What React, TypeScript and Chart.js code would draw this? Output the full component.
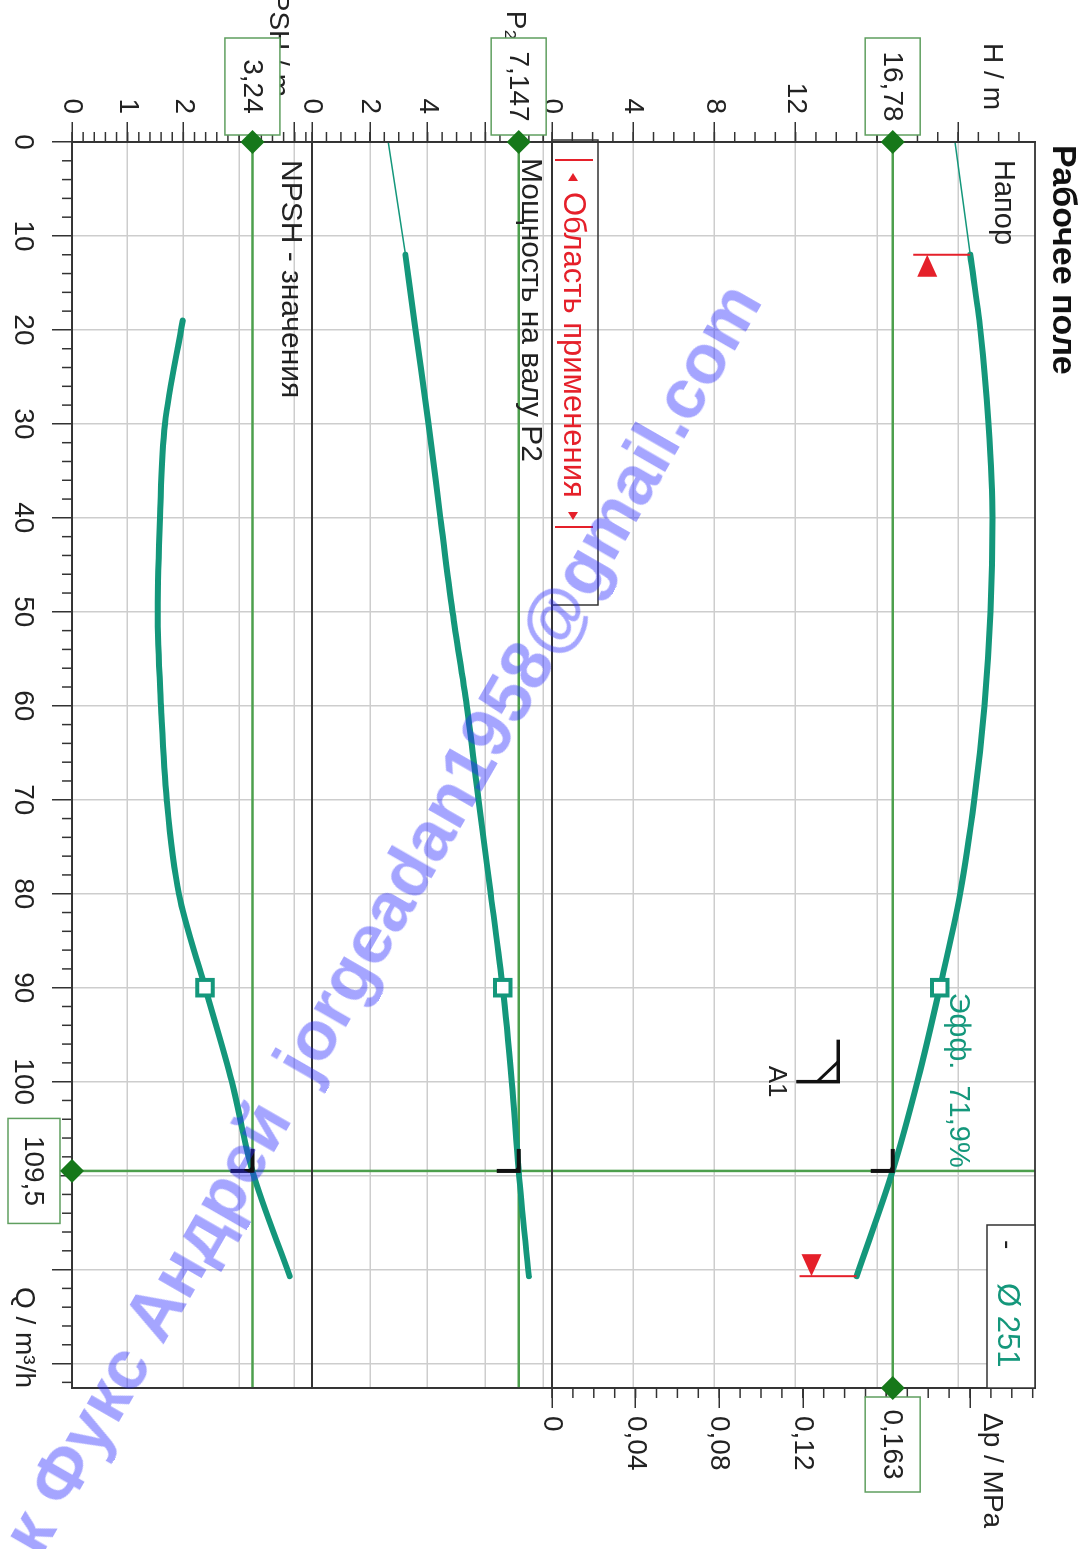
import React, { useEffect, useRef } from 'react';
import { Chart, registerables } from 'chart.js';

Chart.register(...registerables);

// ---------- data ----------
const qMax = 132.6;
const qTickLabels = [0, 10, 20, 30, 40, 50, 60, 70, 80, 90, 100];

const headMax = 23.79;
const powerMax = 8.3;
const npshMax = 4.31;
const dpMax = 0.2311;

const headTickLabels = [0, 4, 8, 12];
const powerTickLabels = [0, 2, 4];
const npshTickLabels = [0, 1, 2];
const dpTickLabels = [0, 0.04, 0.08, 0.12];

const headThinQ = [0, 12];
const headThinVals = [19.85, 20.6];
const headQ = [12, 20, 30, 40, 50, 60, 70, 80, 90, 100, 109.5, 120.7];
const headVals = [20.6, 21.1, 21.5, 21.7, 21.6, 21.3, 20.8, 20.1, 19.1, 18.0, 16.78, 15.0];

const powerThinQ = [0, 12];
const powerThinVals = [2.64, 3.23];
const powerQ = [12, 20, 30, 40, 50, 60, 70, 80, 90, 100, 109.5, 120.7];
const powerVals = [3.23, 3.58, 4.03, 4.44, 4.86, 5.35, 5.76, 6.18, 6.6, 6.91, 7.147, 7.5];

const npshQ = [19, 30, 40, 50, 60, 70, 80, 90, 100, 109.5, 120.7];
const npshVals = [1.99, 1.67, 1.58, 1.54, 1.6, 1.7, 1.92, 2.39, 2.87, 3.24, 3.91];

const dutyQ = 109.5;
const dutyH = 16.78;
const dutyP = 7.147;
const dutyN = 3.24;
const dutyDp = 0.163;

const bepQ = 90;
const bepH = 19.1;
const bepP = 6.6;
const bepN = 2.39;
const bepEff = '71,9%';

const a1Q = 100;
const a1H = 14.1;

const rangeMinQ = 12;
const rangeMaxQ = 120.7;
const impeller = 'Ø 251';

// ---------- style ----------
const W = 1549;
const H = 1087;
const FONT = '"Liberation Sans", Arial, sans-serif';
const TEAL = '#14977b';
const GRID = '#cdcdcd';
const AXIS = '#333333';
const DUTY_GREEN = '#4d9f4d';
const BOX_GREEN = '#5f9f5f';
const DIAMOND = '#16781a';
const RED = '#e5202a';

const fmt = (v: number) => String(v).replace('.', ',');
const has = (arr: number[], v: number) => arr.some((t) => Math.abs(t - v) < 1e-6);
const xy = (qs: number[], vs: number[]) => qs.map((q, i) => ({ x: q, y: vs[i] }));

function line(ctx: CanvasRenderingContext2D, x1: number, y1: number, x2: number, y2: number) {
  ctx.beginPath();
  ctx.moveTo(x1, y1);
  ctx.lineTo(x2, y2);
  ctx.stroke();
}

function text(ctx: CanvasRenderingContext2D, s: string, x: number, y: number, opts: any = {}) {
  ctx.font = `${opts.bold ? 'bold ' : ''}${opts.size || 28}px ${FONT}`;
  ctx.fillStyle = opts.color || '#222';
  ctx.textAlign = opts.align || 'left';
  ctx.textBaseline = 'middle';
  ctx.fillText(s, x, y);
}

function diamond(ctx: CanvasRenderingContext2D, x: number, y: number, r: number) {
  ctx.fillStyle = DIAMOND;
  ctx.beginPath();
  ctx.moveTo(x, y - r);
  ctx.lineTo(x + r, y);
  ctx.lineTo(x, y + r);
  ctx.lineTo(x - r, y);
  ctx.closePath();
  ctx.fill();
}

function valueBox(ctx: CanvasRenderingContext2D, cx: number, cy: number, w: number, h: number, s: string) {
  ctx.fillStyle = '#fff';
  ctx.fillRect(cx - w / 2, cy - h / 2, w, h);
  ctx.strokeStyle = BOX_GREEN;
  ctx.lineWidth = 1.5;
  ctx.strokeRect(cx - w / 2, cy - h / 2, w, h);
  text(ctx, s, cx, cy + 1, { align: 'center' });
}

function corner(ctx: CanvasRenderingContext2D, x: number, y: number, len: number) {
  ctx.strokeStyle = '#111';
  ctx.lineWidth = 4;
  ctx.beginPath();
  ctx.moveTo(x - len, y);
  ctx.lineTo(x, y);
  ctx.lineTo(x, y + len);
  ctx.stroke();
  ctx.fillStyle = '#111';
  ctx.beginPath();
  ctx.moveTo(x, y);
  ctx.lineTo(x - 8, y);
  ctx.quadraticCurveTo(x - 1, y + 1, x, y + 8);
  ctx.closePath();
  ctx.fill();
}

function triangle(ctx: CanvasRenderingContext2D, apexX: number, cy: number, dir: number) {
  ctx.fillStyle = RED;
  ctx.beginPath();
  ctx.moveTo(apexX, cy);
  ctx.lineTo(apexX + dir * 22, cy - 10);
  ctx.lineTo(apexX + dir * 22, cy + 10);
  ctx.closePath();
  ctx.fill();
}

const overlay = {
  id: 'overlay',
  beforeDraw(chart: any) {
    const { ctx } = chart;
    ctx.save();
    ctx.fillStyle = '#fff';
    ctx.fillRect(0, 0, chart.width, chart.height);
    ctx.restore();
  },
  beforeDatasetsDraw(chart: any) {
    const { ctx, chartArea: ca, scales } = chart;
    const { x, yH, yP, yN } = scales;
    ctx.save();
    ctx.strokeStyle = DUTY_GREEN;
    ctx.lineWidth = 2.5;
    for (const [sc, v] of [[yH, dutyH], [yP, dutyP], [yN, dutyN]] as any) {
      const py = sc.getPixelForValue(v);
      line(ctx, ca.left, py, ca.right, py);
    }
    const px = x.getPixelForValue(dutyQ);
    line(ctx, px, ca.top, px, ca.bottom);
    ctx.restore();
  },
  afterDatasetsDraw(chart: any) {
    const { ctx, chartArea: ca, scales } = chart;
    const { x, yH, yP, yN, yDp } = scales;
    ctx.save();

    // panel separators and frame
    ctx.strokeStyle = AXIS;
    ctx.lineWidth = 1.8;
    line(ctx, ca.left, yH.bottom, ca.right, yH.bottom);
    line(ctx, ca.left, yP.bottom, ca.right, yP.bottom);
    ctx.strokeRect(ca.left, ca.top, ca.right - ca.left, ca.bottom - ca.top);

    // minor ticks
    ctx.lineWidth = 1.5;
    for (let i = 0; i * 2 <= qMax; i++) {
      if (i % 5 === 0) continue;
      const px = x.getPixelForValue(i * 2);
      line(ctx, px, ca.bottom, px, ca.bottom + 10);
    }
    const leftMinor: [any, number, number][] = [[yH, 1, headMax], [yP, 0.5, powerMax], [yN, 0.2, npshMax]];
    for (const [sc, step, max] of leftMinor) {
      for (let i = 0; i * step <= max; i++) {
        const py = sc.getPixelForValue(i * step);
        line(ctx, ca.left - 10, py, ca.left, py);
      }
    }
    for (let i = 0; i * 0.01 <= dpMax; i++) {
      const py = yDp.getPixelForValue(i * 0.01);
      line(ctx, ca.right, py, ca.right + 10, py);
    }

    // application range markers
    ctx.strokeStyle = RED;
    ctx.lineWidth = 2;
    const sx = x.getPixelForValue(rangeMinQ);
    const sy = yH.getPixelForValue(headVals[0]);
    line(ctx, sx, sy, sx, sy + 57);
    triangle(ctx, sx, sy + 43, 1);
    const ex = x.getPixelForValue(rangeMaxQ);
    const ey = yH.getPixelForValue(headVals[headVals.length - 1]);
    line(ctx, ex, ey, ex, ey + 57);
    triangle(ctx, ex, ey + 45, -1);

    // duty point corners
    const dx = x.getPixelForValue(dutyQ);
    corner(ctx, dx, yH.getPixelForValue(dutyH), 22);
    corner(ctx, dx, yP.getPixelForValue(dutyP), 22);
    corner(ctx, dx, yN.getPixelForValue(dutyN), 22);

    // A1 marker
    const ax = x.getPixelForValue(a1Q);
    const ay = yH.getPixelForValue(a1H);
    ctx.strokeStyle = '#111';
    ctx.lineWidth = 3.5;
    ctx.beginPath();
    ctx.moveTo(ax - 42, ay);
    ctx.lineTo(ax, ay);
    ctx.lineTo(ax, ay + 42);
    ctx.stroke();
    ctx.lineWidth = 3;
    line(ctx, ax - 20, ay, ax, ay + 21);
    text(ctx, 'A1', ax, ay + 62, { align: 'center', size: 26 });

    // labels
    text(ctx, 'Рабочее поле', 145, 25, { bold: true, size: 34, color: '#111' });
    text(ctx, 'H / m', 110, 95, { align: 'right' });
    text(ctx, 'P₂ / kW', 104, yH.bottom + 37, { align: 'right' });
    text(ctx, 'NPSH / m', 97, yP.bottom + 34, { align: 'right' });
    text(ctx, 'Δp / MPa', 1413, 95);
    text(ctx, 'Q / m³/h', ca.right, 1063, { align: 'right' });

    text(ctx, 'Напор', 160, 84, { size: 29 });
    text(ctx, 'Мощность на валу P2', 158, yH.bottom + 22, { size: 30 });
    text(ctx, 'NPSH - значения', 160, yP.bottom + 22, { size: 30 });
    text(ctx, 'Эфф.  ' + bepEff, x.getPixelForValue(bepQ) + 5, yH.getPixelForValue(bepH) - 18, { size: 29, color: TEAL });

    // legend box
    ctx.fillStyle = '#fff';
    ctx.fillRect(1225, ca.top, ca.right - 1225, 48);
    ctx.strokeStyle = AXIS;
    ctx.lineWidth = 1.5;
    ctx.strokeRect(1225, ca.top, ca.right - 1225, 48);
    text(ctx, '-', 1240, ca.top + 28, { size: 28 });
    text(ctx, impeller, 1283, ca.top + 28, { size: 31, color: TEAL });

    // application range box
    const bx1 = 140, bx2 = 605, by1 = yH.bottom - 46, by2 = yH.bottom;
    ctx.strokeStyle = AXIS;
    ctx.lineWidth = 1.5;
    ctx.strokeRect(bx1, by1, bx2 - bx1, by2 - by1);
    ctx.strokeStyle = RED;
    ctx.lineWidth = 2;
    line(ctx, 160, by1 + 5, 160, by2 - 3);
    line(ctx, 527, by1 + 5, 527, by2 - 3);
    ctx.fillStyle = RED;
    ctx.beginPath();
    ctx.moveTo(173, by1 + 25); ctx.lineTo(181, by1 + 20); ctx.lineTo(181, by1 + 30); ctx.closePath(); ctx.fill();
    ctx.beginPath();
    ctx.moveTo(520, by1 + 25); ctx.lineTo(512, by1 + 20); ctx.lineTo(512, by1 + 30); ctx.closePath(); ctx.fill();
    text(ctx, 'Область применения', 192, by1 + 25, { size: 31, color: RED });

    // value boxes and diamonds
    const hy = yH.getPixelForValue(dutyH);
    const py = yP.getPixelForValue(dutyP);
    const ny = yN.getPixelForValue(dutyN);
    valueBox(ctx, 86.5, hy, 97, 55, fmt(dutyH));
    valueBox(ctx, 86.5, py, 97, 55, fmt(dutyP));
    valueBox(ctx, 86.5, ny, 97, 55, fmt(dutyN));
    valueBox(ctx, dx, 1053, 105, 52, fmt(dutyQ));
    valueBox(ctx, 1444.5, yDp.getPixelForValue(dutyDp), 95, 55, fmt(dutyDp));
    diamond(ctx, ca.left, hy, 12);
    diamond(ctx, ca.left, py, 12);
    diamond(ctx, ca.left, ny, 12);
    diamond(ctx, dx, ca.bottom, 12);
    diamond(ctx, ca.right, yDp.getPixelForValue(dutyDp), 12);

    ctx.restore();
  },
};

export default function App() {
  const ref = useRef<HTMLCanvasElement>(null);

  useEffect(() => {
    const tickFont = { family: FONT, size: 28 };
    const grid = { color: GRID, lineWidth: 1.5, tickLength: 20, tickColor: AXIS, tickWidth: 1.5 };
    const border = { color: AXIS, width: 1.8 };
    const leftAxis = (stackWeight: number, max: number, step: number, shown: number[]) => ({
      type: 'linear',
      position: 'left',
      stack: 'panels',
      stackWeight,
      min: 0,
      max,
      grid,
      border,
      ticks: {
        stepSize: step,
        includeBounds: false,
        autoSkip: false,
        font: tickFont,
        color: '#222',
        padding: 8,
        callback: (v: number) => (has(shown, v) ? fmt(v) : ''),
      },
      afterFit: (s: any) => {
        s.width = 142;
      },
    });
    const rightBlank = (stackWeight: number, max: number) => ({
      type: 'linear',
      position: 'right',
      stack: 'panels',
      stackWeight,
      min: 0,
      max,
      grid: { display: false },
      border,
      ticks: { display: false },
      afterFit: (s: any) => {
        s.width = 161;
      },
    });

    const chart = new Chart(ref.current as HTMLCanvasElement, {
      type: 'line',
      data: {
        datasets: [
          { data: [{ x: bepQ, y: bepH }], yAxisID: 'yH', showLine: false, pointStyle: 'rect', pointRadius: 11, pointBorderWidth: 4, pointBackgroundColor: '#fff', pointBorderColor: TEAL },
          { data: [{ x: bepQ, y: bepP }], yAxisID: 'yP', showLine: false, pointStyle: 'rect', pointRadius: 11, pointBorderWidth: 4, pointBackgroundColor: '#fff', pointBorderColor: TEAL },
          { data: [{ x: bepQ, y: bepN }], yAxisID: 'yN', showLine: false, pointStyle: 'rect', pointRadius: 11, pointBorderWidth: 4, pointBackgroundColor: '#fff', pointBorderColor: TEAL },
          { data: xy(headQ, headVals), yAxisID: 'yH', borderColor: TEAL, borderWidth: 6, cubicInterpolationMode: 'monotone', borderCapStyle: 'round' },
          { data: xy(headThinQ, headThinVals), yAxisID: 'yH', borderColor: TEAL, borderWidth: 1.5 },
          { data: xy(powerQ, powerVals), yAxisID: 'yP', borderColor: TEAL, borderWidth: 6, cubicInterpolationMode: 'monotone', borderCapStyle: 'round' },
          { data: xy(powerThinQ, powerThinVals), yAxisID: 'yP', borderColor: TEAL, borderWidth: 1.5 },
          { data: xy(npshQ, npshVals), yAxisID: 'yN', borderColor: TEAL, borderWidth: 6, cubicInterpolationMode: 'monotone', borderCapStyle: 'round' },
        ],
      } as any,
      options: {
        animation: false,
        responsive: false,
        devicePixelRatio: 1,
        events: [],
        layout: { padding: { top: 52, left: 0, right: 0, bottom: 0 } },
        elements: { point: { radius: 0 }, line: { tension: 0 } },
        plugins: { legend: { display: false }, tooltip: { enabled: false }, title: { display: false } },
        scales: {
          x: {
            type: 'linear',
            position: 'bottom',
            min: 0,
            max: qMax,
            grid,
            border,
            ticks: {
              stepSize: 10,
              includeBounds: false,
              autoSkip: false,
              maxRotation: 0,
              font: tickFont,
              color: '#222',
              padding: 12,
              callback: (v: number) => (has(qTickLabels, v) ? String(v) : ''),
            },
            afterFit: (s: any) => {
              s.height = 72;
            },
          },
          // left stack is placed in reverse order: last defined ends on top
          yN: leftAxis(240, npshMax, 1, npshTickLabels),
          yP: leftAxis(240, powerMax, 2, powerTickLabels),
          yH: leftAxis(483, headMax, 4, headTickLabels),
          yDp: {
            type: 'linear',
            position: 'right',
            stack: 'panels',
            stackWeight: 483,
            min: 0,
            max: dpMax,
            grid: { ...grid, drawOnChartArea: false },
            border,
            ticks: {
              stepSize: 0.04,
              includeBounds: false,
              autoSkip: false,
              font: tickFont,
              color: '#222',
              padding: 8,
              callback: (v: number) => (has(dpTickLabels, v) ? fmt(Math.round(v * 100) / 100) : ''),
            },
            afterFit: (s: any) => {
              s.width = 161;
            },
          },
          yPr: rightBlank(240, powerMax),
          yNr: rightBlank(240, npshMax),
        },
      } as any,
      plugins: [overlay],
    });
    return () => chart.destroy();
  }, []);

  return (
    <div style={{ position: 'absolute', left: 0, top: 0, width: H, height: W, overflow: 'hidden', background: '#fff' }}>
      <div
        style={{
          position: 'absolute',
          left: 0,
          top: 0,
          width: W,
          height: H,
          transformOrigin: '0 0',
          transform: `translate(${H}px, 0px) rotate(90deg)`,
        }}
      >
        <canvas ref={ref} width={W} height={H} style={{ width: W, height: H, display: 'block' }} />
      </div>
      <div
        style={{
          position: 'absolute',
          left: 381,
          top: 918,
          transform: 'translate(-50%, -50%) rotate(-60.1deg)',
          whiteSpace: 'pre',
          font: `bold 70px ${FONT}`,
          lineHeight: 1,
          color: 'rgba(40, 40, 255, 0.42)',
          pointerEvents: 'none',
        }}
      >
        {'к Фукс Андрей  jorgeadan1958@gmail.com'}
      </div>
    </div>
  );
}
